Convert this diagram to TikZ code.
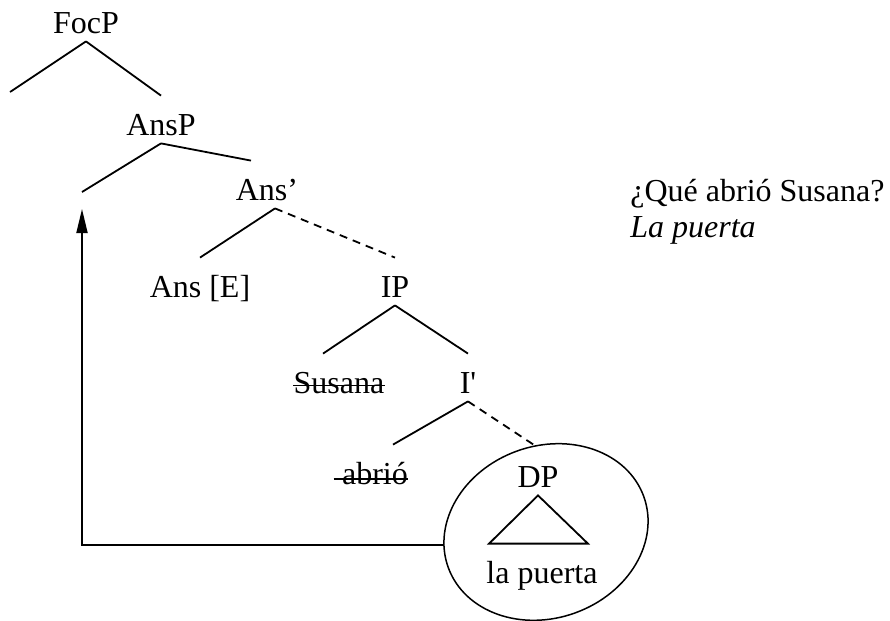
\documentclass[tikz,border=0pt]{standalone}
\usepackage{fontspec}
\setmainfont{Liberation Serif}
\usetikzlibrary{positioning}
\usetikzlibrary{arrows.meta}
\usetikzlibrary{shapes.geometric}

\begin{document}
\begin{tikzpicture}
		[x=0.5pt, y=-0.5pt,
			every node/.style={font=\fontsize{16}{18}\selectfont},
			lbl/.style={inner sep=0, anchor=base, text height=19.5pt, text depth=4pt},
			branch/.style={line width=0.9pt},
			gapped/.style={branch, dash pattern=on 4pt off 3pt},
			movement/.style={line width=0.9pt, -{Triangle[length=12pt,width=5.5pt]}}]
		\useasboundingbox (0,0) rectangle (890,621);
		% tree labels
		\node (focp) [lbl] at (86,33) {FocP};
		\node (ansp) [lbl] at (161,135) {AnsP};
		\node (ansbar) [lbl] at (267,200) {Ans’};
		\node (anse) [lbl] at (200,297) {Ans [E]};
		\node (ip) [lbl] at (395,297) {IP};
		\node (susana) [lbl] at (339,393) {Susana};
		\node (ibar) [lbl] at (468,393) {I\textquotesingle};
		\node (abrio) [lbl] at (371,484) {\hspace{0.25em}abrió};
		\node (dp) [lbl] at (538,487) {DP};
		\node (lapuerta) [lbl] at (542,583) {la puerta};
		\node (dpring) [draw, ellipse, line width=0.75pt, inner sep=0,
			minimum width=104pt, minimum height=86pt, rotate=20] at (546,532) {};
		% question and answer
		\node (question) [lbl, anchor=base west] at (630,201) {¿Qué abrió Susana?};
		\node (answer) [lbl, below right=18pt and 0pt of question.base west, anchor=base west]
			{\textit{La puerta}};
		% empty positions
		\coordinate (focleft) at (10,92);
		\coordinate (ansleft) at (82,192);
		\coordinate (trace) at (82,209);
		% branches
		\draw (focp.south) edge [branch] (focleft) edge [branch] (ansp.north);
		\draw (ansp.south) edge [branch] (ansleft) edge [branch] ([xshift=-8pt]ansbar.north);
		\draw ([xshift=4pt]ansbar.south) edge [branch] (anse.north) edge [gapped] (ip.north);
		\draw (ip.south) edge [branch] ([xshift=-8pt]susana.north) edge [branch] (ibar.north);
		\draw (ibar.south) edge [branch] ([xshift=11pt]abrio.north) edge [gapped] (dp.north);
		\draw [branch] (dp.south) -- ([xshift=1.5pt]lapuerta.north west)
			-- ([xshift=-5pt]lapuerta.north east) -- cycle;
		% struck-out copies
		\draw [branch] ([yshift=3.8pt]susana.base west) -- ([yshift=3.8pt]susana.base east);
		\draw [branch] ([yshift=2.5pt]abrio.base west) -- ([yshift=2.5pt]abrio.base east);
		% movement
		\draw [movement] (dpring.167) -| (trace);
\end{tikzpicture}
\end{document}
